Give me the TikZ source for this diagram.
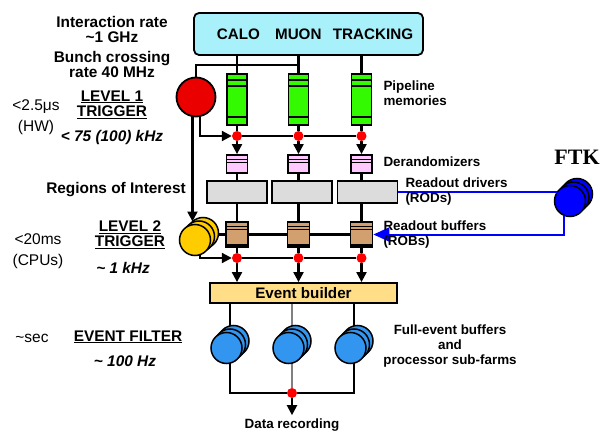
\documentclass[tikz,border=0pt]{standalone}
\usepackage{fontspec}
\setmainfont{Liberation Sans}
\newfontfamily\ftkfont{Liberation Serif}
\usetikzlibrary{arrows.meta,positioning}
\definecolor{detcyan}{RGB}{168,240,250}
\definecolor{pipegreen}{RGB}{51,250,0}
\definecolor{derpink}{RGB}{255,200,255}
\definecolor{rodgray}{RGB}{220,220,220}
\definecolor{robbrown}{RGB}{210,160,110}
\definecolor{l2yellow}{RGB}{255,204,0}
\definecolor{efblue}{RGB}{50,150,240}
\definecolor{ebfill}{RGB}{255,222,135}
\tikzset{
  >={Triangle[length=10pt,width=10pt]},
  wire/.style ={line width=2.1pt},
  ftkw/.style ={line width=2pt, blue, >={Triangle[length=16pt,width=14pt]}},
  box/.style  ={draw, line width=1.8pt, inner sep=0pt},
  det/.style  ={box, rounded corners=5pt, fill=detcyan, minimum width=229pt, minimum height=42pt, font=\bfseries\fontsize{15.2}{18}\selectfont},
  pipe/.style ={box, fill=pipegreen, minimum width=20pt, minimum height=51pt,
    path picture={\draw[line width=1.6pt]
      ([yshift=-6]path picture bounding box.north west) -- ([yshift=-6]path picture bounding box.north east)
      ([yshift=-12]path picture bounding box.north west) -- ([yshift=-12]path picture bounding box.north east)
      ([yshift=8]path picture bounding box.south west) -- ([yshift=8]path picture bounding box.south east);}},
  der/.style  ={box, fill=derpink, minimum width=21pt, minimum height=18pt,
    path picture={\draw[line width=1pt]
      ([yshift=-5]path picture bounding box.north west) -- ([yshift=-5]path picture bounding box.north east)
      ([yshift=-8]path picture bounding box.north west) -- ([yshift=-8]path picture bounding box.north east);}},
  rod/.style  ={box, fill=rodgray, minimum width=60pt, minimum height=22pt},
  rob/.style  ={box, fill=robbrown, minimum width=22pt, minimum height=25pt,
    path picture={\draw[line width=1pt]
      ([yshift=-4]path picture bounding box.north west) -- ([yshift=-4]path picture bounding box.north east)
      ([yshift=-7]path picture bounding box.north west) -- ([yshift=-7]path picture bounding box.north east);
      \draw[line width=2.5pt] ([yshift=1.5]path picture bounding box.south west) -- ([yshift=1.5]path picture bounding box.south east);}},
  eb/.style   ={box, fill=ebfill, minimum width=187pt, minimum height=20pt, font=\bfseries\fontsize{15.2}{18}\selectfont},
  dot/.style  ={circle, fill=red, inner sep=0pt, minimum size=10pt},
  l1/.style   ={circle, draw, line width=1.8pt, fill=red!92!black, minimum size=39pt, inner sep=0pt},
  disk/.style ={circle, draw, line width=1.5pt, inner sep=0pt, minimum size=31pt},
  l2disk/.style={disk, fill=l2yellow},
  efdisk/.style={disk, fill=efblue},
  ftkdisk/.style={disk, fill=blue},
  lbl/.style  ={align=center, font=\bfseries\fontsize{15.4}{15}\selectfont},
  rate/.style ={font=\bfseries\itshape\fontsize{15.4}{15}\selectfont},
  lat/.style  ={align=center, font=\fontsize{15.5}{21}\selectfont},
  side/.style ={anchor=west, align=left, font=\bfseries\fontsize{13.4}{15}\selectfont}
}
\begin{document}
\begin{tikzpicture}[x=1pt,y=-1pt]
\useasboundingbox (0,0) rectangle (600,433);
% detectors and readout columns
\node[det] (det) at (308.5,34) {\hspace*{13pt}CALO\quad MUON\hspace{0.75em}TRACKING};
\foreach \i/\x in {1/237,2/298.5,3/361.5}{
  \node[pipe] (p\i)   at (\x,99.5)  {};
  \node[dot]  (d\i)   at (\x,136)   {};
  \node[der]  (dr\i)  at (\x,164)   {};
  \node[rob]  (rob\i) at (\x,234.5) {};
  \node[dot]  (e\i)   at (\x,258)   {};
}
\node[rod] (rod1) at (237,192)   {};
\node[rod] (rod2) at (302,192)   {};
\node[rod] (rod3) at (367.5,192) {};
\node[eb]  (eb)   at (303.5,293) {Event builder};
\node[l1]  (l1)   at (196,97)    {};
\coordinate (tap) at (298.5,65);

\foreach \i in {1,2,3}{
  \draw[wire] (det.south -| p\i) -- (p\i) -- (d\i);
  \draw[wire,->] (d\i) -- (dr\i);
  \draw[wire] (dr\i) -- (dr\i |- rod\i.north);
  \draw[wire] (dr\i |- rod\i.south) -- (rob\i) -- (e\i);
  \draw[wire,->] (e\i) -- (e\i |- eb.north);
}
\draw[wire] (d1) -- (d2) -- (d3);
\draw[wire] (e1) -- (e2) -- (e3);
\draw[wire] (l1) |- (tap);
\draw[wire,->] (l1.-78) |- (d1);

% level 2 processors
\node[l2disk] (l2c) at (203,233)   {};
\node[l2disk] (l2b) at (199,236.5) {};
\node[l2disk] (l2)  at (195,240)   {};
\draw[wire,->] (l1.-100) -- (l1.-100 |- l2c.135);
\draw[wire] (l2c.east |- rob1) -- (rob1) -- (rob2) -- (rob3);
\draw[wire,->] (l2.-72) |- (e1);

% event filter farms
\node[dot] (fd) at (292,393) {};
\foreach \i/\x in {1/230,2/292,3/354}
  \coordinate (ef\i) at (\x,344.5);
\draw[wire] (eb.south -| ef1) -- (ef1 |- fd) -- (fd);
\draw[wire] (eb.south -| ef3) -- (ef3 |- fd) -- (fd);
\draw[wire,gray] (eb.south -| ef2) -- (fd);
\foreach \i in {1,2,3}{
  \node[efdisk] (efr\i) at ([shift={(3.5,-3.5)}]ef\i) {};
  \node[efdisk] (efm\i) at (ef\i) {};
  \node[efdisk] (eff\i) at ([shift={(-3.5,3.5)}]ef\i) {};
}
\node[side,anchor=center,align=center] (rec) at (292,425) {Data recording};
\draw[wire,->] (fd) -- (rec);

% FTK
\node[ftkdisk] (ftkr) at (577,194)     {};
\node[ftkdisk] (ftkm) at (573.5,197.5) {};
\node[ftkdisk] (ftk)  at (570,201)     {};
\node[font=\ftkfont\bfseries\fontsize{22}{24}\selectfont] (ftkl) at (577,157) {FTK};
\draw[ftkw] (rod3.east) -- (rod3.east -| ftk.146);
\draw[ftkw,->] (ftk.-110) |- (rob3.east);

% left labels
\node[lbl] (irate) at (112,29.5)  {Interaction rate\\\textasciitilde1 GHz};
\node[lbl] (bx)    at (112,64.5)  {Bunch crossing\\rate 40 MHz};
\node[lbl] (lv1)   at (112,104.5) {\underline{LEVEL 1}\\\underline{TRIGGER}};
\node[lat] (lat1)  at (36,117.5)  {<2.5μs\\(HW)};
\node[rate] (r1)   at (112,138)   {< 75 (100) kHz};
\node[lbl] (roi)   at (116,190)   {Regions of Interest};
\node[lbl] (lv2)   at (130,234.5) {\underline{LEVEL 2}\\\underline{TRIGGER}};
\node[lat] (lat2)  at (38,251)    {<20ms\\(CPUs)};
\node[rate] (r2)   at (123,268)   {\textasciitilde\ 1 kHz};
\node[lat] (lat3)  at (32,338)    {\textasciitilde sec};
\node[lbl] (lv3)   at (128,337)   {\underline{EVENT FILTER}};
\node[rate] (r3)   at (125,361)   {\textasciitilde\ 100 Hz};

% right labels
\node[side] (pipel) at (380,93.5)  {Pipeline\\memories};
\node[side] (derl)  at (380,162)   {Derandomizers};
\node[side] (rodl)  at (402,192)   {Readout drivers\\(RODs)};
\node[side] (robl)  at (380,234.5) {Readout buffers\\(ROBs)};
\node[side,anchor=center,align=center] (efl) at (450,346.5) {Full-event buffers\\and\\processor sub-farms};
\end{tikzpicture}
\end{document}
